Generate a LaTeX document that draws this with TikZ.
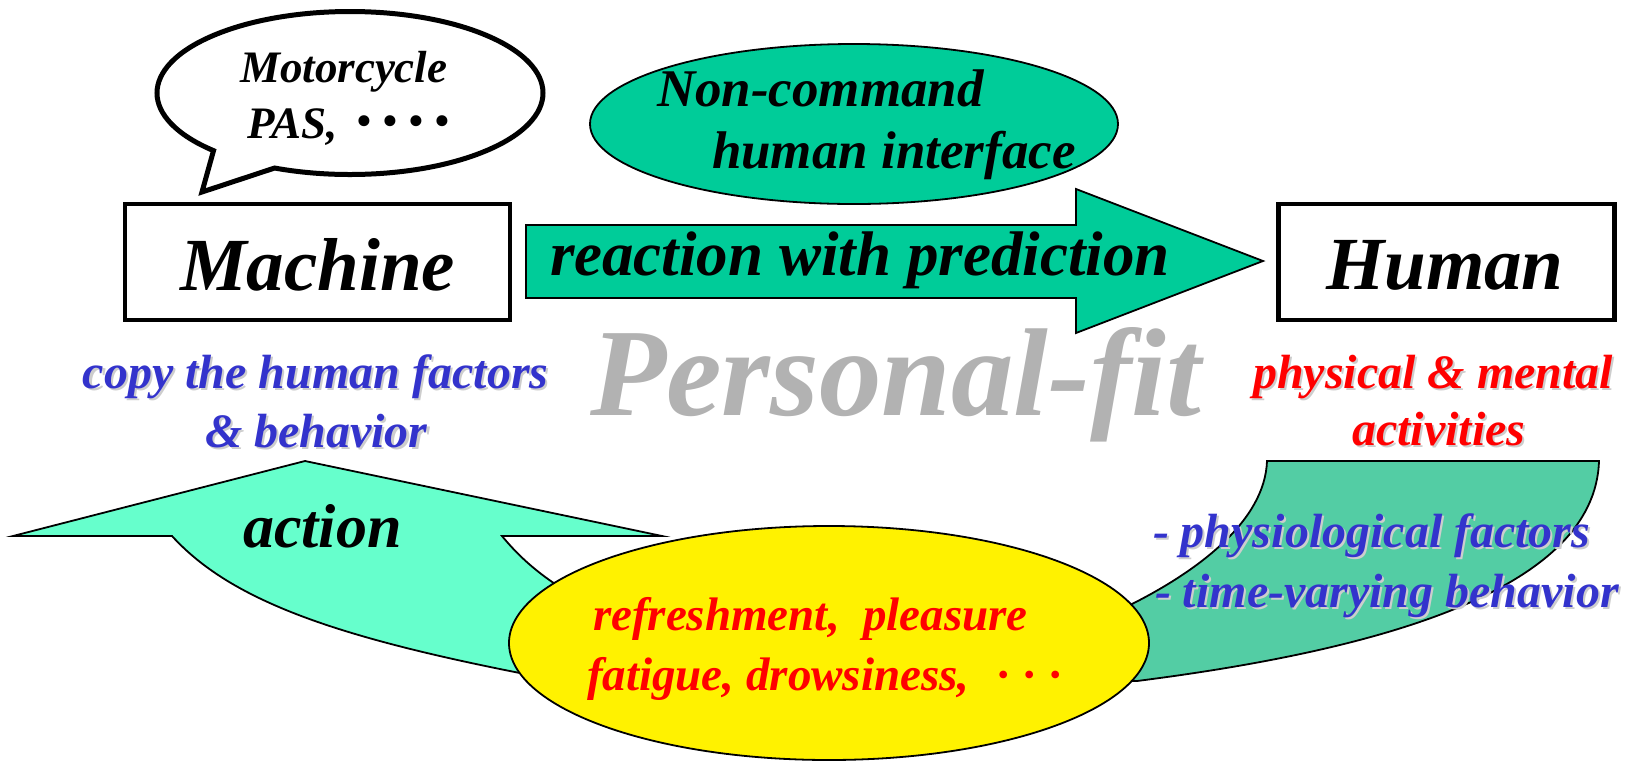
\documentclass[tikz,border=0pt]{standalone}
\usepackage{fontspec}
\setmainfont{Liberation Serif}
\usetikzlibrary{calc,shapes.geometric}
\definecolor{arrowgreen}{RGB}{0,204,153}
\definecolor{actiongreen}{RGB}{102,255,204}
\definecolor{sidegreen}{RGB}{83,205,164}
\definecolor{labelblue}{RGB}{51,51,204}
\definecolor{labelred}{RGB}{255,0,0}
\definecolor{pfgray}{RGB}{178,178,178}
\definecolor{shadowgray}{RGB}{205,205,205}
\newcommand{\shlabel}[5]{% name, x, y, colour, size, text
  \node[lbl, bi=#5, text=shadowgray] at (#2+2,#3+2) {\currtext};
  \node[lbl, bi=#5, text=#4] (#1) at (#2,#3) {\currtext};}
\newcommand{\bigdot}{\raisebox{-0.12em}{\scalebox{1.5}{·}}}
\begin{document}
\begin{tikzpicture}[x=0.5pt,y=-0.5pt,
  lbl/.style={inner sep=0pt, outer sep=0pt, anchor=base west},
  bi/.style={font=\fontsize{#1}{#1}\selectfont\bfseries\itshape},
  shapeline/.style={draw=black, line width=0.9pt},
  boxstyle/.style={draw=black, line width=2.4pt, fill=white, inner sep=0pt, minimum height=58pt}]
\useasboundingbox (0,0) rectangle (1630,762);

% lower left "action" arrow
\path[shapeline, fill=actiongreen] (13,536) -- (305,461) -- (662,536) -- (502,536)
  .. controls (530,570) and (560,590) .. (620,622) -- (620,685) -- (530,675)
  .. controls (340,638) and (232,602) .. (172,536) -- cycle;
% lower right curved band
\path[shapeline, fill=sidegreen] (1267,461) -- (1599,461)
  .. controls (1595,590) and (1380,650) .. (1137,681) -- (1080,681) -- (1080,610) -- (1130,605)
  .. controls (1200,570) and (1265,520) .. (1267,461) -- cycle;
% yellow ellipse
\node[ellipse, shapeline, fill=yellow, inner sep=0pt, minimum width=320pt, minimum height=117pt] (mood) at (829,643) {};

% speech bubble
\coordinate (bc) at (350,93);
\coordinate (tailtip) at (202,192);
\draw[line width=2.5pt, fill=white, line join=miter] ($(bc)+(113:193 and 81.5)$) -- (tailtip) -- ($(bc)+(135:193 and 81.5)$)
  arc[start angle=135, end angle=473, x radius=193, y radius=81.5] -- cycle;

% boxes
\node[boxstyle, minimum width=192.5pt] (machine) at (317.5,262) {};
\node[boxstyle, minimum width=168pt] (human) at (1446.5,262) {};

% reaction arrow
\path[shapeline, fill=arrowgreen] (526,225) -- (1076,225) -- (1076,189) -- (1263,261)
  -- (1076,333) -- (1076,298) -- (526,298) -- cycle;
% green ellipse
\node[ellipse, shapeline, fill=arrowgreen, inner sep=0pt, minimum width=264pt, minimum height=80pt] (nci) at (854,124) {};

% black texts
\node[lbl, bi=22.5pt] (moto) at (240,82) {Motorcycle};
\node[lbl, bi=22.5pt] (pas) at (247,138) {PAS,\hspace{0.4em}\bigdot\hspace{0.2em}\bigdot\hspace{0.2em}\bigdot\hspace{0.2em}\bigdot};
\node[lbl, bi=37.5pt] (machinetext) at (180,290) {Machine};
\node[lbl, bi=37.5pt] (humantext) at (1326,289) {Human};
\node[lbl, bi=26.5pt] (nc1) at (657,106) {Non-command};
\node[lbl, bi=26.5pt] (nc2) at (712,168) {human interface};
\node[lbl, bi=31.5pt] (react) at (550,275) {reaction with prediction};
\node[lbl, bi=31pt] (action) at (243,547) {action};
\node[lbl, bi=62.5pt, text=pfgray] (pfit) at (590,415) {Personal-fit};

% coloured labels with shadow
\def\currtext{copy the human factors}\shlabel{copy}{83}{388}{labelblue}{24pt}
\def\currtext{\& behavior}\shlabel{behav}{205}{447}{labelblue}{24pt}
\def\currtext{physical \& mental}\shlabel{phys}{1253}{388}{labelred}{24pt}
\def\currtext{activities}\shlabel{activ}{1352}{445}{labelred}{24pt}
\def\currtext{- physiological factors}\shlabel{physio}{1153}{547}{labelblue}{24pt}
\def\currtext{- time-varying behavior}\shlabel{timev}{1155}{607}{labelblue}{24pt}
\node[lbl, bi=23.5pt, text=labelred] (refr) at (593,630) {refreshment,\ \ pleasure};
\node[lbl, bi=23.5pt, text=labelred] (fatig) at (587,690) {fatigue, drowsiness,\hspace{0.6em}·\hspace{0.3em}·\hspace{0.3em}·};
\end{tikzpicture}
\end{document}
